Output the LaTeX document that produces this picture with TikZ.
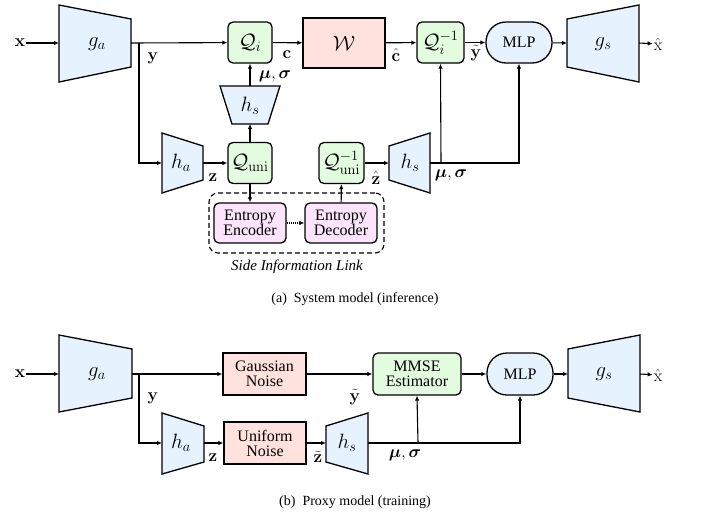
\documentclass[tikz,border=0pt]{standalone}
\usepackage{amsmath,bm}
\usepackage[no-math]{fontspec}
\setmainfont{Liberation Serif}
\usetikzlibrary{arrows.meta,calc}
\definecolor{cblue}{HTML}{E6F3FF}
\definecolor{cgreen}{HTML}{E3FBDF}
\definecolor{cred}{HTML}{FFE1DD}
\definecolor{cpurple}{HTML}{FCE4FC}
\tikzset{
  every node/.style={font=\fontsize{16}{17}\selectfont},
  mth/.style={font=\fontsize{21}{22}\selectfont},
  ar/.style={line width=1.1pt,-{Latex[length=5pt,width=4.5pt]}},
  ln/.style={line width=1.1pt},
  blk/.style={draw,line width=1.3pt,rounded corners=5pt,align=center,inner sep=0pt},
  qbox/.style={blk,fill=cgreen,minimum width=44pt,minimum height=41pt,mth},
  trap/.style={draw,line width=1.3pt,fill=cblue,line join=miter},
  lbl/.style={inner sep=1pt,font=\fontsize{17}{18}\selectfont},
  captxt/.style={font=\fontsize{14}{16}\selectfont}
}
\begin{document}
\begin{tikzpicture}[x=1pt,y=-1pt]
\useasboundingbox (0,0) rectangle (710,517);
% ================= (a) =================
\node[lbl] (xa) at (20,43) {$\mathbf{x}$};
% g_a
\draw[trap] (59,5) -- (131,19) -- (131,67) -- (59,82) -- cycle;
\node[mth] (ga) at (97,44) {$g_a$};
\coordinate (gain) at (59,43); \coordinate (gaout) at (131,43);
% g_s
\draw[trap] (567,19) -- (639,5) -- (639,82) -- (567,67) -- cycle;
\node[mth] (gs) at (603,44) {$g_s$};
\coordinate (gsin) at (567,43); \coordinate (gsout) at (639,43);
\node[lbl] (xha) at (658,44) {$\hat{\mathrm{x}}$};
% boxes
\node[qbox] (Qi) at (250,42.5) {$\mathcal{Q}_i$};
\node[blk,mth,fill=cred,minimum width=82pt,minimum height=50pt,rounded corners=0pt] (W) at (344,43) {$\mathcal{W}$};
\node[qbox,minimum width=47pt] (Qii) at (440.5,42.5) {$\mathcal{Q}_i^{-1}$};
\node[draw,line width=1.3pt,fill=cblue,rounded corners=20pt,minimum width=66pt,minimum height=41pt,inner sep=0pt] (MLPa) at (519,42.5) {MLP};
% h_s top (inverted)
\draw[trap] (220,86) -- (280,86) -- (268,124) -- (232,124) -- cycle;
\node[mth] (hst) at (250,106) {$h_s$};
\coordinate (hsttop) at (250,86); \coordinate (hstbot) at (250,124);
% h_a
\draw[trap] (162,133) -- (203,146) -- (203,180) -- (162,193) -- cycle;
\node[mth] (haa) at (181,163) {$h_a$};
\coordinate (haain) at (162,163); \coordinate (haaout) at (203,163);
\node[qbox] (Qu) at (250,163) {$\mathcal{Q}_{\mathrm{uni}}$};
\node[qbox,minimum width=45pt] (Qui) at (341.5,163) {$\mathcal{Q}_{\mathrm{uni}}^{-1}$};
% h_s lower
\draw[trap] (389,146) -- (430,133) -- (430,193) -- (389,180) -- cycle;
\node[mth] (hsl) at (410,163) {$h_s$};
\coordinate (hslin) at (389,163); \coordinate (hslout) at (430,163);
% entropy
\node[blk,fill=cpurple,minimum width=72pt,minimum height=40pt] (EE) at (250,223) {Entropy\\[-2pt]Encoder};
\node[blk,fill=cpurple,minimum width=72pt,minimum height=40pt] (ED) at (341,223) {Entropy\\[-2pt]Decoder};
\node[draw,dash pattern=on 5pt off 3pt,line width=1.1pt,rounded corners=9pt,minimum width=175pt,minimum height=60pt,inner sep=0pt] (SIL) at (296.5,223) {};
\node[font=\fontsize{15}{16}\selectfont\itshape] (silt) at (297,267) {Side Information Link};
% connectors (a)
\draw[ar] (xa) -- (gain);
\draw[ar] (gaout) -- (Qi);
\coordinate (bra) at (139,43);
\draw[ar] (bra) |- (haain);
\node[lbl] (ya) at (153,58) {$\mathbf{y}$};
\draw[ar] (Qi) -- (W);
\node[lbl] (ca) at (287,55) {$\mathbf{c}$};
\draw[ar] (W) -- (Qii);
\node[lbl] (cha) at (396,55) {$\hat{\mathbf{c}}$};
\draw[ar] (Qii) -- (MLPa);
\node[lbl] (yta) at (476,53) {$\tilde{\mathbf{y}}$};
\draw[ar] (MLPa) -- (gsin);
\draw[ar] (gsout) -- (xha);
\draw[ar] (hsttop) -- (Qi);
\node[lbl] (msa) at (275,76) {$\bm{\mu},\bm{\sigma}$};
\draw[ar] (Qu) -- (hstbot);
\draw[ar] (haaout) -- (Qu);
\node[lbl] (za) at (213,178) {$\mathbf{z}$};
\draw[ar] (Qu) -- (EE);
\draw[ar,densely dotted] (EE) -- (ED);
\draw[ar] (ED) -- (Qui);
\draw[ar] (Qui) -- (hslin);
\node[lbl] (zha) at (376,178) {$\hat{\mathbf{z}}$};
\coordinate (jn1) at (441,163);
\draw[ln] (hslout) -- (jn1);
\draw[ar] (jn1) -- (Qii.south);
\draw[ar] (jn1) -| (MLPa.south);
\node[lbl] (msb) at (451,175) {$\bm{\mu},\bm{\sigma}$};
\node[captxt] (capa) at (355,299) {(a)\ \ System model (inference)};
% ================= (b) =================
\node[lbl] (xb) at (20,374) {$\mathbf{x}$};
\draw[trap] (59,335) -- (132,349) -- (132,398) -- (59,412) -- cycle;
\node[mth] (gab) at (97,374) {$g_a$};
\coordinate (gabin) at (59,374); \coordinate (gabout) at (132,374);
\draw[trap] (568,349) -- (640,335) -- (640,412) -- (568,398) -- cycle;
\node[mth] (gsb) at (604,374) {$g_s$};
\coordinate (gsbin) at (568,374); \coordinate (gsbout) at (640,374);
\node[lbl] (xhb) at (658,375) {$\hat{\mathrm{x}}$};
\node[blk,fill=cred,rounded corners=0pt,minimum width=83pt,minimum height=42pt] (GN) at (264.5,374) {Gaussian\\[-2pt]Noise};
\node[blk,fill=cgreen,minimum width=88pt,minimum height=42pt] (MM) at (417,374) {MMSE\\[-2pt]Estimator};
\node[draw,line width=1.3pt,fill=cblue,rounded corners=20pt,minimum width=66pt,minimum height=42pt,inner sep=0pt] (MLPb) at (520,374) {MLP};
\draw[trap] (162,413) -- (204,426) -- (204,462) -- (162,474) -- cycle;
\node[mth] (hab) at (181,443) {$h_a$};
\coordinate (habin) at (162,443); \coordinate (habout) at (204,443);
\node[blk,fill=cred,rounded corners=0pt,minimum width=82pt,minimum height=42pt] (UN) at (265,443) {Uniform\\[-2pt]Noise};
\draw[trap] (326,426) -- (368,413) -- (368,474) -- (326,462) -- cycle;
\node[mth] (hsb) at (347,443) {$h_s$};
\coordinate (hsbin) at (326,443); \coordinate (hsbout) at (368,443);
% connectors (b)
\draw[ar] (xb) -- (gabin);
\draw[ar] (gabout) -- (GN);
\coordinate (brb) at (139,374);
\draw[ar] (brb) |- (habin);
\node[lbl] (yb) at (153,398) {$\mathbf{y}$};
\draw[ar] (GN) -- (MM);
\node[lbl] (ytb) at (355,397) {$\tilde{\mathbf{y}}$};
\draw[ar] (MM) -- (MLPb);
\draw[ar] (MLPb) -- (gsbin);
\draw[ar] (gsbout) -- (xhb);
\draw[ar] (habout) -- (UN);
\node[lbl] (zb) at (213,458) {$\mathbf{z}$};
\draw[ar] (UN) -- (hsbin);
\node[lbl] (ztb) at (318,457) {$\tilde{\mathbf{z}}$};
\coordinate (jn2) at (418,443);
\draw[ln] (hsbout) -- (jn2);
\draw[ar] (jn2) -- (MM.south);
\draw[ar] (jn2) -| (MLPb.south);
\node[lbl] (msc) at (405,455) {$\bm{\mu},\bm{\sigma}$};
\node[captxt] (capb) at (355,502) {(b)\ \ Proxy model (training)};
\end{tikzpicture}
\end{document}
